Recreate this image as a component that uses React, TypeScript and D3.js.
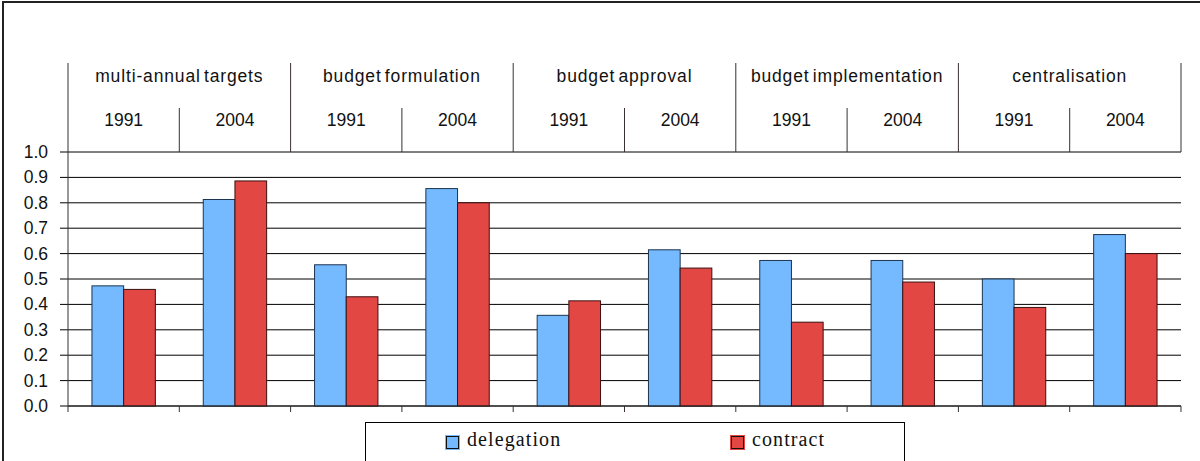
import React from "react";
import * as d3 from "d3";

const groups = ["multi-annual targets", "budget formulation", "budget approval", "budget implementation", "centralisation"];
const years = ["1991", "2004"];
const series = ["delegation", "contract"];
const delegation = [0.473, 0.813, 0.556, 0.856, 0.357, 0.615, 0.573, 0.573, 0.5, 0.675];
const contract = [0.459, 0.886, 0.43, 0.8, 0.414, 0.543, 0.33, 0.488, 0.388, 0.6];
const yTicks = [0, 0.1, 0.2, 0.3, 0.4, 0.5, 0.6, 0.7, 0.8, 0.9, 1.0];

const W = 1200;
const H = 461;
const plotLeft = 68;
const plotRight = 1181;
const plotTop = 152;
const plotBottom = 406;
const colors: Record<string, string> = { delegation: "#75B9FF", contract: "#E34744" };
const strokes: Record<string, string> = { delegation: "#1d3550", contract: "#3a1010" };
const sans = "'Liberation Sans', Arial, sans-serif";
const serif = "'Liberation Serif', 'Times New Roman', serif";

export default function App() {
  const cats = groups.flatMap((g) => years.map((yr) => g + "|" + yr));
  const x = d3.scaleBand<string>().domain(cats).range([plotLeft, plotRight]).padding(0);
  const xg = d3.scaleBand<string>().domain(groups).range([plotLeft, plotRight]).padding(0);
  const xs = d3.scaleBand<string>().domain(series).range([0, x.bandwidth()]).paddingInner(0).paddingOuter(0.756);
  const y = d3.scaleLinear().domain([0, 1]).range([plotBottom, plotTop]);
  const values: Record<string, number[]> = { delegation, contract };
  const lineColor = "#3a3030";

  return (
    <svg width={W} height={H} style={{ position: "absolute", left: 0, top: 0, background: "#fff" }}>
      <rect x={0} y={0} width={W} height={H} fill="#fff" />
      <rect x={3} y={2} width={1220} height={480} fill="none" stroke="#222" strokeWidth={2} />

      {/* gridlines + y ticks */}
      {yTicks.map((t) => (
        <g key={t}>
          <line x1={plotLeft - 8} x2={plotRight} y1={y(t)} y2={y(t)} stroke="#000" strokeWidth={1} />
          <text x={48} y={y(t)} textAnchor="end" dominantBaseline="central" fontFamily={sans} fontSize={17.5} fill="#111">
            {t.toFixed(1)}
          </text>
        </g>
      ))}

      {/* y axis */}
      <line x1={plotLeft} x2={plotLeft} y1={plotTop} y2={plotBottom + 6} stroke={lineColor} strokeWidth={1} />

      {/* bars */}
      {series.map((s) =>
        cats.map((c, i) => (
          <rect
            key={s + c}
            x={(x(c) as number) + (xs(s) as number)}
            y={y(values[s][i])}
            width={xs.bandwidth()}
            height={plotBottom - y(values[s][i])}
            fill={colors[s]}
            stroke={strokes[s]}
            strokeWidth={1}
          />
        ))
      )}

      {/* x axis */}
      <line x1={plotLeft} x2={plotRight} y1={plotBottom} y2={plotBottom} stroke="#222" strokeWidth={1} />
      {cats.map((c) => (
        <line key={"tk" + c} x1={(x(c) as number) + x.bandwidth()} x2={(x(c) as number) + x.bandwidth()} y1={plotBottom} y2={plotBottom + 6} stroke={lineColor} strokeWidth={1} />
      ))}

      {/* header table */}
      {groups.map((g) => (
        <g key={"g" + g}>
          <line x1={xg(g) as number} x2={xg(g) as number} y1={63} y2={plotTop} stroke={lineColor} strokeWidth={1} />
          <text x={(xg(g) as number) + xg.bandwidth() / 2} y={76} textAnchor="middle" dominantBaseline="central" fontFamily={sans} fontSize={17.5} letterSpacing={0.85} wordSpacing={-2.5} fill="#111">
            {g}
          </text>
        </g>
      ))}
      <line x1={plotRight} x2={plotRight} y1={63} y2={plotTop} stroke={lineColor} strokeWidth={1} />
      {cats.map((c, i) => (
        <g key={"y" + c}>
          {i % 2 === 1 && (
            <line x1={x(c) as number} x2={x(c) as number} y1={108} y2={plotTop} stroke={lineColor} strokeWidth={1} />
          )}
          <text x={(x(c) as number) + x.bandwidth() / 2} y={120} textAnchor="middle" dominantBaseline="central" fontFamily={sans} fontSize={17.5} fill="#111">
            {c.split("|")[1]}
          </text>
        </g>
      ))}

      {/* legend */}
      <rect x={365.5} y={422.5} width={539} height={60} fill="#fff" stroke="#000" strokeWidth={1} />
      {series.map((s, i) => {
        const mx = i === 0 ? 446 : 731;
        return (
          <g key={"lg" + s}>
            <rect x={mx - 0.5} y={435.5} width={14} height={14} fill="none" stroke={colors[s]} strokeWidth={1} />
            <rect x={mx + 0.5} y={436.5} width={12} height={12} fill={colors[s]} stroke="#111" strokeWidth={1} />
            <text x={mx + 21} y={446} fontFamily={serif} fontSize={20} letterSpacing={1.1} fill="#111">
              {s}
            </text>
          </g>
        );
      })}
    </svg>
  );
}
